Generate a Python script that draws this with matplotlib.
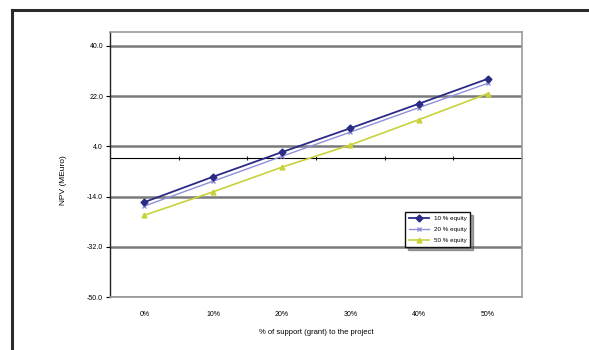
import matplotlib
matplotlib.use("Agg")
import matplotlib.pyplot as plt
from matplotlib.lines import Line2D

plt.rcParams['font.family'] = ['Liberation Sans', 'DejaVu Sans']

# Grant share (categories) and NPV results per equity share
categories = ["0%", "10%", "20%", "30%", "40%", "50%"]
npv_10 = [-16.0, -6.9, 1.9, 10.5, 19.3, 28.2]
npv_20 = [-17.4, -8.5, 0.4, 9.1, 17.9, 26.6]
npv_50 = [-20.7, -12.3, -3.5, 4.5, 13.6, 22.9]
series_names = ["10 % equity", "20 % equity", "50 % equity"]
y_ticks = [-50, -32, -14, 4, 22, 40]

fig = plt.figure(figsize=(5.89, 3.5), dpi=100)
fig.patch.set_facecolor("white")

# outer frame (top and left edges)
fig.add_artist(Line2D([12/589, 1.0], [1 - 10/350, 1 - 10/350], color="#2a2a2a", lw=2.2))
fig.add_artist(Line2D([12/589, 12/589], [0.0, 1 - 10/350], color="#2a2a2a", lw=2.2))

ax = fig.add_axes([110/589, 1 - 297/350, 412/589, 265/350])
x = list(range(len(categories)))

ax.set_xlim(-0.5, len(categories) - 0.5)
ax.set_ylim(-50, 45)

# gridlines
ax.set_yticks(y_ticks)
ax.set_yticklabels([f"{v:.1f}" for v in y_ticks], fontsize=5)
ax.grid(axis="y", color="#7a7a7a", lw=1.8, zorder=0)
ax.set_axisbelow(True)

ax.set_xticks(x)
ax.set_xticklabels(categories, fontsize=5)
ax.tick_params(axis="x", length=0, pad=10)
ax.tick_params(axis="y", length=3, width=0.8, direction="out", pad=2)

for side in ("top", "right", "bottom"):
    ax.spines[side].set_color("#9a9a9a")
    ax.spines[side].set_linewidth(1.2)
ax.spines["left"].set_color("#222222")
ax.spines["left"].set_linewidth(1.0)

# category axis crossing at zero
zero_frac = (0 - (-50)) / (45 - (-50))
sec = ax.secondary_xaxis(zero_frac)
sec.set_xticks([i + 0.5 for i in x[:-1]])
sec.set_xticklabels([])
sec.tick_params(length=3, width=0.8, direction="inout", color="#222222")
sec.spines["bottom"].set_color("#222222")
sec.spines["bottom"].set_linewidth(1.0)

ax.plot(x, npv_10, color="#2b2b86", lw=1.3, marker="D", ms=3.5,
        mfc="#2b2b86", mec="#2b2b86", label=series_names[0], zorder=4)
ax.plot(x, npv_20, color="#8f8fd8", lw=1.0, marker="x", ms=3,
        mec="#8f8fd8", label=series_names[1], zorder=3)
ax.plot(x, npv_50, color="#c8d23a", lw=1.2, marker="^", ms=3.5,
        mfc="#c8d23a", mec="#c8d23a", label=series_names[2], zorder=3)

ax.set_xlabel("% of support (grant) to the project", fontsize=5.5, labelpad=8)
ax.set_ylabel("NPV (MEuro)", fontsize=6)
ax.yaxis.set_label_coords(-0.104, 0.44)

leg = ax.legend(loc="upper left", bbox_to_anchor=(0.709, 0.332), fontsize=4.5,
                frameon=True, fancybox=False, shadow=True, borderpad=0.6,
                handlelength=3.2, labelspacing=0.9)
leg.get_frame().set_edgecolor("#111111")
leg.get_frame().set_linewidth(1.0)

fig.savefig("out.png", dpi=100)
